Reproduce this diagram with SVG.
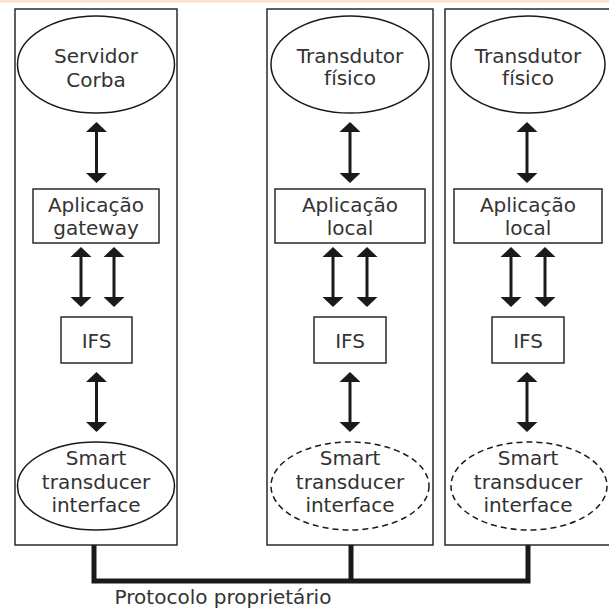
<svg xmlns="http://www.w3.org/2000/svg" width="609" height="609" viewBox="0 0 609 609">
<defs>
<style>
.panel{fill:none;stroke:#2a2a2a;stroke-width:1.5}
.box{fill:#fff;stroke:#2a2a2a;stroke-width:1.5}
.ell{fill:#fff;stroke:#1a1a1a;stroke-width:1.5}
.dash{fill:#fff;stroke:#1a1a1a;stroke-width:1.5;stroke-dasharray:6 4}
.arr{stroke:#1a1a1a;stroke-width:3;fill:none;marker-start:url(#ah);marker-end:url(#ah)}
.bus{stroke:#1a1a1a;stroke-width:5;fill:none;stroke-linejoin:miter}
text{font-family:"DejaVu Sans","Liberation Sans",sans-serif;font-size:20px;fill:#333;text-anchor:middle}
</style>
<marker id="ah" markerUnits="userSpaceOnUse" markerWidth="11" markerHeight="22" refX="2" refY="11" orient="auto-start-reverse" viewBox="0 0 11 22">
<path d="M0,0.5 L10,11 L0,21.5 z" fill="#1a1a1a"/>
</marker>
</defs>
<rect x="0" y="0" width="609" height="2.5" fill="#fbe1c8"/>

<g id="panel1">
<rect class="panel" x="15" y="9" width="162" height="536"/>
</g>
<g id="panel2">
<rect class="panel" x="267" y="9" width="166" height="536"/>
</g>
<g id="panel3">
<rect class="panel" x="445" y="9" width="170" height="536"/>
</g>

<g id="servidor-corba">
<ellipse class="ell" cx="96" cy="64.5" rx="78.5" ry="48.5"/>
<text x="96" y="63">Servidor</text>
<text x="96" y="87">Corba</text>
</g>
<g id="aplicacao-gateway">
<rect class="box" x="33" y="189" width="126" height="54"/>
<text x="96" y="212">Aplicação</text>
<text x="96" y="235">gateway</text>
</g>
<g id="ifs1">
<rect class="box" x="61" y="317" width="71" height="46"/>
<text x="96.5" y="348">IFS</text>
</g>
<g id="smart1">
<ellipse class="ell" cx="96" cy="486" rx="78.5" ry="44"/>
<text x="96" y="465">Smart</text>
<text x="96" y="488.5">transducer</text>
<text x="96" y="512">interface</text>
</g>

<g id="transdutor2">
<ellipse class="ell" cx="350" cy="64.5" rx="79" ry="48.5"/>
<text x="350" y="63">Transdutor</text>
<text x="350" y="85">físico</text>
</g>
<g id="aplicacao-local2">
<rect class="box" x="275" y="189" width="150" height="54"/>
<text x="350" y="212">Aplicação</text>
<text x="350" y="235">local</text>
</g>
<g id="ifs2">
<rect class="box" x="314" y="317" width="72" height="46"/>
<text x="350" y="348">IFS</text>
</g>
<g id="smart2">
<ellipse class="dash" cx="350" cy="486" rx="79" ry="44"/>
<text x="350" y="465">Smart</text>
<text x="350" y="488.5">transducer</text>
<text x="350" y="512">interface</text>
</g>

<g id="transdutor3">
<ellipse class="ell" cx="528" cy="64.5" rx="77" ry="48.5"/>
<text x="528" y="63">Transdutor</text>
<text x="528" y="85">físico</text>
</g>
<g id="aplicacao-local3">
<rect class="box" x="454" y="189" width="148" height="54"/>
<text x="528" y="212">Aplicação</text>
<text x="528" y="235">local</text>
</g>
<g id="ifs3">
<rect class="box" x="492" y="317" width="72" height="46"/>
<text x="528" y="348">IFS</text>
</g>
<g id="smart3">
<ellipse class="dash" cx="529" cy="486" rx="78" ry="44"/>
<text x="528" y="465">Smart</text>
<text x="528" y="488.5">transducer</text>
<text x="528" y="512">interface</text>
</g>

<g id="connectors">
<line class="arr" x1="96.5" y1="130" x2="96.5" y2="175"/>
<line class="arr" x1="81" y1="255" x2="81" y2="299"/>
<line class="arr" x1="114" y1="255" x2="114" y2="299"/>
<line class="arr" x1="96.5" y1="380" x2="96.5" y2="424"/>

<line class="arr" x1="350" y1="130" x2="350" y2="175"/>
<line class="arr" x1="333" y1="255" x2="333" y2="299"/>
<line class="arr" x1="367" y1="255" x2="367" y2="299"/>
<line class="arr" x1="350" y1="380" x2="350" y2="424"/>

<line class="arr" x1="527" y1="130" x2="527" y2="175"/>
<line class="arr" x1="511" y1="255" x2="511" y2="299"/>
<line class="arr" x1="545" y1="255" x2="545" y2="299"/>
<line class="arr" x1="527" y1="380" x2="527" y2="424"/>

<path class="bus" d="M94,545 V581 H528 V545"/>
<line class="bus" x1="351" y1="545" x2="351" y2="581"/>
</g>
<text x="223" y="604">Protocolo proprietário</text>
</svg>
